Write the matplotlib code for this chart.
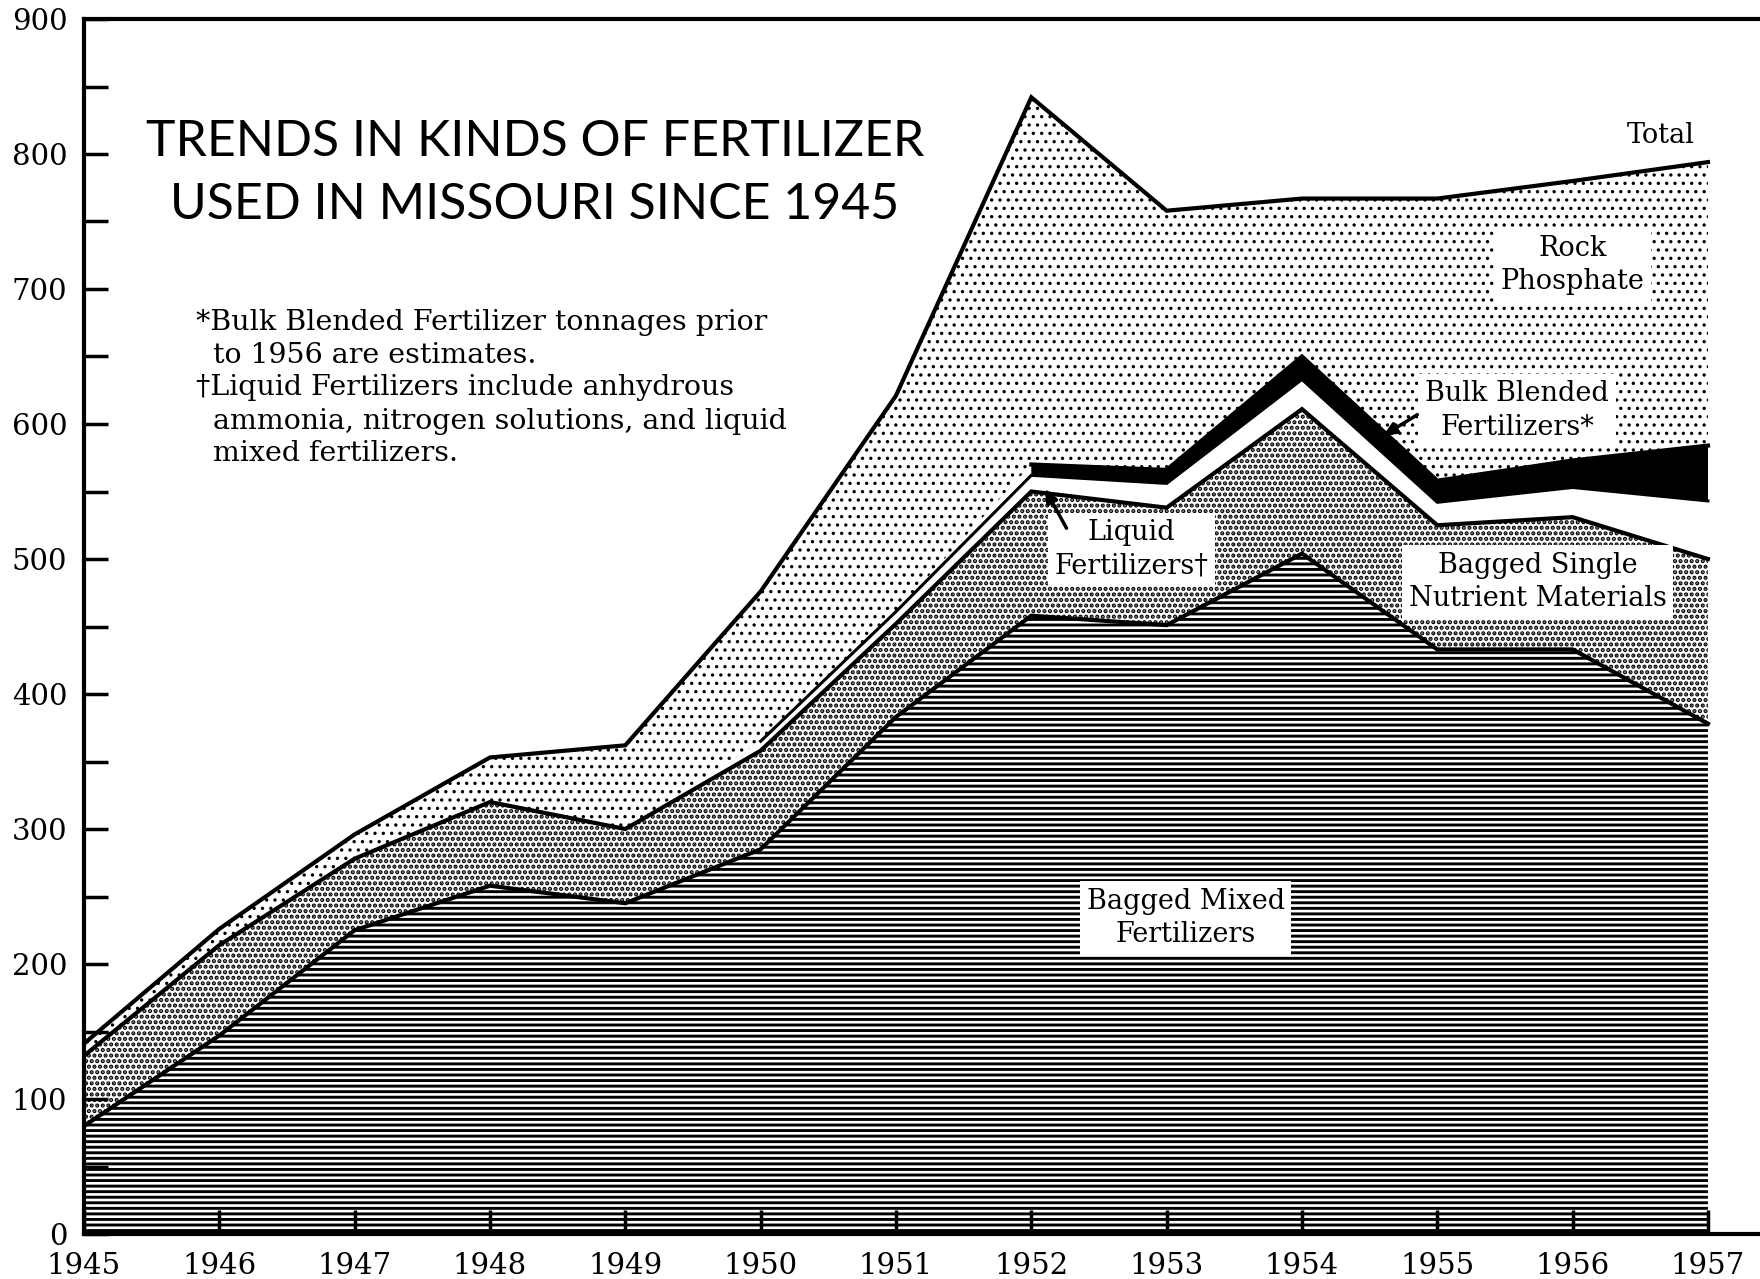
import numpy as np
import matplotlib
matplotlib.use("Agg")
import matplotlib.pyplot as plt

years = [1945, 1946, 1947, 1948, 1949, 1950, 1951, 1952, 1953, 1954, 1955, 1956, 1957]
# thousands of tons
bagged_mixed = [80, 147, 225, 258, 245, 285, 383, 458, 451, 504, 433, 433, 378]
bagged_single = [52, 67, 53, 62, 55, 73, 69, 92, 87, 107, 92, 98, 122]
liquid = [0, 0, 0, 0, 0, 7, 9, 12, 18, 22, 17, 22, 43]
bulk_blended = [0, 0, 0, 0, 0, 0, 0, 8, 10, 17, 16, 20, 41]
rock_phosphate = [9, 12, 18, 33, 62, 111, 160, 272, 192, 117, 209, 207, 210]

x = np.array(years)
c1 = np.array(bagged_mixed)
c2 = c1 + np.array(bagged_single)
c3 = c2 + np.array(liquid)
c4 = c3 + np.array(bulk_blended)
c5 = c4 + np.array(rock_phosphate)

serif = "DejaVu Serif"

fig = plt.figure(figsize=(17.6, 12.79), dpi=100)
ax = fig.add_axes([84 / 1760, 45 / 1279, 1 - 84 / 1760, 1215 / 1279])


def hatched(y0, y1, hatch, hlw, start=0):
    plt.rcParams["hatch.linewidth"] = hlw
    coll = ax.fill_between(x[start:], y0[start:], y1[start:], facecolor="white",
                           edgecolor="black", hatch=hatch, linewidth=0, zorder=1)
    if hasattr(coll, "set_hatch_linewidth"):
        coll.set_hatch_linewidth(hlw)
    return coll


hatched(np.zeros(len(x)), c1, "---", 2.1)
hatched(c1, c2, "...", 2.1)
ax.fill_between(x, c2, c3, facecolor="white", linewidth=0, zorder=1)
ax.fill_between(x[7:], c3[7:], c4[7:], facecolor="black", linewidth=0, zorder=1)
hatched(c4, c5, "..", 1.2)

lw = 3.0
ax.plot(x, c1, color="black", lw=lw, zorder=3, solid_joinstyle="miter")
ax.plot(x, c2, color="black", lw=lw, zorder=3, solid_joinstyle="miter")
ax.plot(x[5:], c3[5:], color="black", lw=2.2, zorder=3, solid_joinstyle="miter")
ax.plot(x[7:], c4[7:], color="black", lw=lw, zorder=3, solid_joinstyle="miter")
ax.plot(x, c5, color="black", lw=lw, zorder=3, solid_joinstyle="miter")

ax.set_xlim(1945, 1945 + (1760 - 84) / 135.33)
ax.set_ylim(0, 900)

ax.set_xticks(years)
ax.set_xticklabels([str(y) for y in years], fontfamily=serif, fontsize=21)
ax.set_yticks(range(0, 901, 100))
ax.set_yticklabels([str(v) for v in range(0, 901, 100)], fontfamily=serif, fontsize=21)
ax.set_yticks(range(50, 900, 100), minor=True)
ax.tick_params(axis="both", which="both", direction="in", length=17, width=2.5, color="black")
ax.tick_params(axis="y", which="major", pad=12)
ax.tick_params(axis="x", which="major", pad=13)

ax.spines["right"].set_visible(False)
for s in ["left", "bottom", "top"]:
    ax.spines[s].set_linewidth(3)
    ax.spines[s].set_zorder(6)

# title
ax.text(1948.33, 809, "TRENDS IN KINDS OF FERTILIZER", fontfamily="Lato", fontsize=36,
        ha="center", va="center", zorder=5)
ax.text(1948.33, 762, "USED IN MISSOURI SINCE 1945", fontfamily="Lato", fontsize=36,
        ha="center", va="center", zorder=5)

# footnotes
notes = [
    (1945.83, "*Bulk Blended Fertilizer tonnages prior"),
    (1945.95, "to 1956 are estimates."),
    (1945.83, "\u2020Liquid Fertilizers include anhydrous"),
    (1945.95, "ammonia, nitrogen solutions, and liquid"),
    (1945.95, "mixed fertilizers."),
]
note_y = [675, 651, 627, 602, 578]
for (nx, line), ny in zip(notes, note_y):
    ax.text(nx, ny, line, fontfamily=serif, fontsize=20.5, ha="left", va="center", zorder=5)

box = dict(boxstyle="square,pad=0.25", facecolor="white", edgecolor="none")
lab = dict(fontfamily=serif, fontsize=19.5, ha="center", va="center", zorder=5,
           linespacing=1.3, bbox=box)
ax.text(1953.14, 234, "Bagged Mixed\nFertilizers", **lab)
ax.text(1955.74, 483, "Bagged Single\nNutrient Materials", **lab)
ax.text(1952.74, 507, "Liquid\nFertilizers\u2020", **lab)
ax.text(1955.59, 610, "Bulk Blended\nFertilizers*", **lab)
ax.text(1956.0, 718, "Rock\nPhosphate", **lab)
ax.text(1956.65, 814, "Total", **lab)

arrow = dict(arrowstyle="-|>,head_length=0.8,head_width=0.35", color="black", lw=2.5)
ax.annotate("", xy=(1952.09, 554), xytext=(1952.27, 521), arrowprops=arrow, zorder=6)
ax.annotate("", xy=(1954.58, 590), xytext=(1954.87, 608), arrowprops=arrow, zorder=6)

fig.savefig("out.png", dpi=100)
